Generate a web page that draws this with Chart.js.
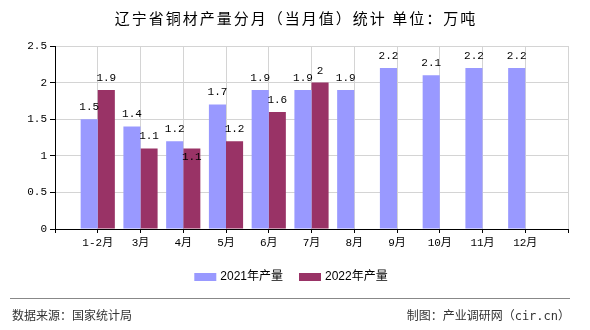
<!DOCTYPE html>
<html>
<head>
<meta charset="utf-8">
<script src="https://cdn.jsdelivr.net/npm/chart.js@4.4.1/dist/chart.umd.min.js"></script>
<style>
  html, body { margin: 0; padding: 0; background: #fff; }
</style>
</head>
<body>
<canvas id="c" width="590" height="330"></canvas>
<script>
// 数据（万吨）
const months = ['1-2月', '3月', '4月', '5月', '6月', '7月', '8月', '9月', '10月', '11月', '12月'];
const output2021 = [1.5, 1.4, 1.2, 1.7, 1.9, 1.9, 1.9, 2.2, 2.1, 2.2, 2.2];
const output2022 = [1.9, 1.1, 1.1, 1.2, 1.6, 2];
const seriesNames = ['2021年产量', '2022年产量'];
const yMax = 2.5;
const yStep = 0.5;

const titleText = '辽宁省铜材产量分月（当月值）统计 单位：万吨';
const sourceText = '数据来源：国家统计局';
const makerText = '制图：产业调研网（cir.cn）';

// empty slot at each end so the months sit on the grid lines
const labels = ['', ...months, ''];
const pad = arr => [null, ...months.map((_, i) => (arr[i] ?? null)), null];

const monoFont = '11px "Liberation Mono", "Noto Sans CJK SC"';

const valueLabels = {
  id: 'valueLabels',
  afterDatasetsDraw(chart) {
    const ctx = chart.ctx;
    ctx.save();
    ctx.font = monoFont;
    ctx.fillStyle = '#000';
    ctx.textAlign = 'center';
    ctx.textBaseline = 'middle';
    const boxes = [];
    chart.data.datasets.forEach((ds, di) => {
      chart.getDatasetMeta(di).data.forEach((bar, i) => {
        const v = ds.data[i];
        if (v == null) return;
        const txt = String(v);
        const w = ctx.measureText(txt).width;
        let y = bar.y - 12;
        const hit = b => Math.abs(b.x - bar.x) < (b.w + w) / 2 && Math.abs(b.y - y) < 10;
        if (boxes.some(hit)) y = bar.y + 9;
        boxes.push({ x: bar.x, y, w });
        ctx.fillText(txt, bar.x, y);
      });
    });
    ctx.restore();
  }
};

const decorations = {
  id: 'decorations',
  afterDraw(chart) {
    const ctx = chart.ctx;
    ctx.save();
    // title
    ctx.fillStyle = '#000';
    ctx.font = '15px "Noto Sans CJK SC"';
    ctx.letterSpacing = '2px';
    ctx.textAlign = 'center';
    ctx.textBaseline = 'middle';
    ctx.fillText(titleText, 296, 18);
    ctx.letterSpacing = '0px';

    // legend
    ctx.font = '12px "Liberation Sans", "Noto Sans CJK SC"';
    ctx.textAlign = 'left';
    const items = chart.data.datasets.map(ds => ({ text: ds.label, color: ds.backgroundColor }));
    const widths = items.map(it => 22 + 4 + ctx.measureText(it.text).width);
    const total = widths.reduce((a, b) => a + b, 0) + 16 * (items.length - 1);
    let x = 291 - total / 2;
    items.forEach((it, i) => {
      ctx.fillStyle = it.color;
      ctx.fillRect(x, 273, 22, 8);
      ctx.fillStyle = '#000';
      ctx.fillText(it.text, x + 26, 277);
      x += widths[i] + 16;
    });

    // footer
    ctx.strokeStyle = '#888';
    ctx.lineWidth = 1;
    ctx.beginPath();
    ctx.moveTo(10, 298.5);
    ctx.lineTo(570, 298.5);
    ctx.stroke();
    ctx.fillStyle = '#333';
    ctx.font = '12px "DejaVu Sans Mono", "Noto Sans CJK SC"';
    ctx.textAlign = 'left';
    ctx.fillText(sourceText, 12, 317);
    ctx.textAlign = 'right';
    ctx.fillText(makerText, 570, 317);
    ctx.restore();
  }
};

new Chart(document.getElementById('c'), {
  type: 'bar',
  data: {
    labels,
    datasets: [
      { label: seriesNames[0], data: pad(output2021), backgroundColor: '#9999FF' },
      { label: seriesNames[1], data: pad(output2022), backgroundColor: '#993366' },
    ],
  },
  options: {
    responsive: false,
    animation: false,
    devicePixelRatio: 1,
    layout: { padding: { top: 46, right: 22, bottom: 0, left: 0 } },
    datasets: { bar: { categoryPercentage: 0.8, barPercentage: 1 } },
    scales: {
      x: {
        offset: false,
        grid: { offset: false, color: '#d4d4d4', tickColor: '#000', tickLength: 4 },
        border: { color: '#000', width: 1 },
        ticks: { color: '#000', font: { family: '"Liberation Mono", "Noto Sans CJK SC"', size: 11 }, padding: 3, maxRotation: 0, autoSkip: false },
        afterFit(scale) { scale.height = 101; },
      },
      y: {
        min: 0,
        max: yMax,
        grid: { color: '#d4d4d4', tickColor: '#000', tickLength: 5 },
        border: { color: '#000', width: 1 },
        ticks: {
          stepSize: yStep,
          color: '#000',
          font: { family: '"Liberation Mono", "Noto Sans CJK SC"', size: 11 },
          padding: 3,
          callback: v => String(Math.round(v * 10) / 10),
        },
        afterFit(scale) { scale.width = 55; },
      },
    },
    plugins: {
      legend: { display: false },
      title: { display: false },
      tooltip: { enabled: false },
    },
  },
  plugins: [valueLabels, decorations],
});
</script>
</body>
</html>
